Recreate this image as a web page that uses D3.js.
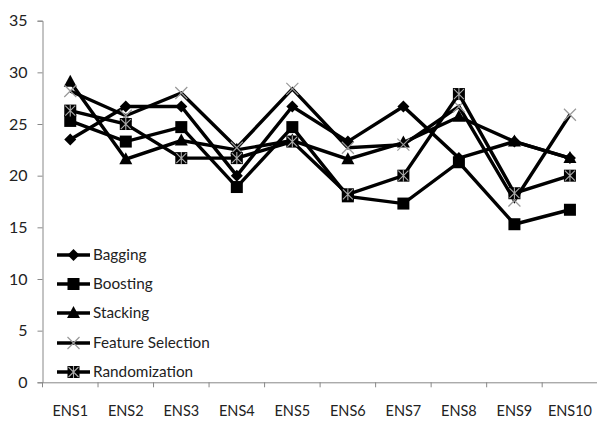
<!DOCTYPE html>
<html><head><meta charset="utf-8">
<script src="https://cdn.jsdelivr.net/npm/d3@7"></script>
<style>body{margin:0;background:#fff}svg{display:block}text{font-family:Lato,"Open Sans",sans-serif;fill:#222}</style>
</head><body><div id="chart"></div>
<script>
const categories = ["ENS1","ENS2","ENS3","ENS4","ENS5","ENS6","ENS7","ENS8","ENS9","ENS10"];
const bagging = [23.5,26.7,26.7,20.0,26.7,23.3,26.7,21.7,23.3,21.7];
const boosting = [25.3,23.3,24.7,18.9,24.7,18.0,17.3,21.3,15.3,16.7];
const stacking = [29.1,21.6,23.4,22.5,23.4,21.6,23.2,25.7,23.3,21.7];
const featureSelection = [28.2,25.8,28.0,22.7,28.4,22.7,23.0,26.7,17.6,25.9];
const randomization = [26.3,25.0,21.7,21.7,23.3,18.2,20.0,27.9,18.3,20.0];
const yTicks = [0,5,10,15,20,25,30,35];
const seriesNames = ["Bagging","Boosting","Stacking","Feature Selection","Randomization"];
const seriesMarkers = ["diamond","square","triangle","x","xsquare"];
const seriesValues = [bagging,boosting,stacking,featureSelection,randomization];

(function(){
const W=597,H=423;
const svg=d3.select("#chart").append("svg").attr("width",W).attr("height",H);
const mLeft=42.5,mRight=597.7,mTop=20.7,mBottom=382.3;
const x=d3.scaleBand().domain(categories).range([mLeft,mRight]).padding(0);
const y=d3.scaleLinear().domain([0,35]).range([mBottom,mTop]);
const axisColor="#888";

const ya=svg.append("g").attr("transform",`translate(${mLeft},0)`)
  .call(d3.axisLeft(y).tickValues(yTicks).tickSize(5).tickPadding(10));
ya.select(".domain").attr("stroke",axisColor);
ya.selectAll(".tick line").attr("stroke",axisColor);
ya.selectAll(".tick text").attr("font-size",16).attr("font-family","Lato").attr("fill","#1a1a1a");

const xa=svg.append("g").attr("transform",`translate(0,${mBottom})`)
  .call(d3.axisBottom(x).tickSize(0).tickPadding(23));
xa.select(".domain").attr("stroke",axisColor);
xa.selectAll(".tick text").attr("font-size",14.5).attr("font-family","Lato").attr("fill","#1a1a1a");
const bounds=categories.map(c=>x(c)).concat([x(categories[categories.length-1])+x.bandwidth()]);
svg.append("g").selectAll("line").data(bounds).join("line")
  .attr("x1",d=>d).attr("x2",d=>d).attr("y1",mBottom).attr("y2",mBottom+5)
  .attr("stroke",axisColor);

function drawMarker(g,type,cx,cy){
  const s=6;
  if(type==="diamond"){
    g.append("path").attr("d",`M${cx},${cy-s}L${cx+s},${cy}L${cx},${cy+s}L${cx-s},${cy}Z`).attr("fill","#000");
  } else if(type==="square"){
    g.append("rect").attr("x",cx-s).attr("y",cy-s).attr("width",2*s).attr("height",2*s).attr("fill","#000");
  } else if(type==="triangle"){
    g.append("path").attr("d",`M${cx},${cy-7}L${cx+6.5},${cy+5}L${cx-6.5},${cy+5}Z`).attr("fill","#000");
  } else if(type==="x"){
    g.append("path").attr("d",`M${cx-6},${cy-6}L${cx+6},${cy+6}M${cx+6},${cy-6}L${cx-6},${cy+6}`).attr("stroke","#999").attr("stroke-width",1.2).attr("fill","none");
  } else if(type==="xsquare"){
    g.append("rect").attr("x",cx-6).attr("y",cy-6).attr("width",12).attr("height",12).attr("fill","#000");
    g.append("path").attr("d",`M${cx-5},${cy-5}L${cx+5},${cy+5}M${cx+5},${cy-5}L${cx-5},${cy+5}M${cx},${cy-6}L${cx},${cy+6}`).attr("stroke","#aaa").attr("stroke-width",1.1).attr("fill","none");
  }
}

const line=d3.line().x((d,i)=>x(categories[i])+x.bandwidth()/2).y(d=>y(d));
seriesValues.forEach((vals,si)=>{
  const g=svg.append("g");
  g.append("path").datum(vals).attr("d",line).attr("fill","none").attr("stroke","#000").attr("stroke-width",3.4).attr("stroke-linejoin","miter");
  vals.forEach((v,i)=>drawMarker(g,seriesMarkers[si],x(categories[i])+x.bandwidth()/2,y(v)));
});

const legY=[255,284,313,343,372];
seriesNames.forEach((n,i)=>{
  const g=svg.append("g");
  g.append("line").attr("x1",57).attr("x2",90).attr("y1",legY[i]).attr("y2",legY[i]).attr("stroke","#000").attr("stroke-width",3.4);
  drawMarker(g,seriesMarkers[i],73.5,legY[i]);
  g.append("text").attr("x",93).attr("y",legY[i]).attr("dy","0.35em").attr("font-size",15.3).attr("font-family","Lato").attr("fill","#1a1a1a").text(n);
});
})();
</script></body></html>
